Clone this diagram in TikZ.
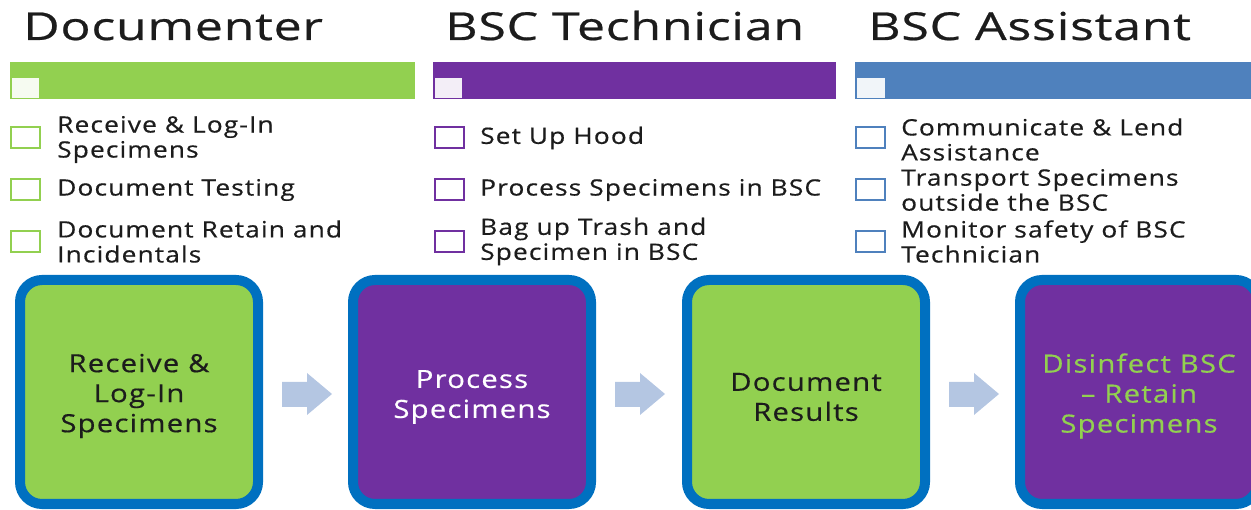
\documentclass[tikz,border=0pt]{standalone}
\usepackage{fontspec}
\setmainfont{Open Sans}[FakeStretch=1.17,LetterSpace=5,FakeBold=0.5]
\newfontfamily\headfont{Open Sans}[FakeStretch=1.3,LetterSpace=2,FakeBold=0.6]
\usetikzlibrary{calc}

\definecolor{leafgreen}{HTML}{92D050}
\definecolor{plum}{HTML}{7030A0}
\definecolor{steel}{HTML}{4F81BD}
\definecolor{rim}{HTML}{0070C0}
\definecolor{arrowgrey}{HTML}{B4C6E2}
\definecolor{ink}{HTML}{1C1C1C}

\tikzset{
  heading/.style={anchor=base west, inner sep=0, text=ink,
    font=\headfont\fontsize{38.5}{42}\selectfont},
  bar/.style={fill=#1, draw=none},
  tick/.style={fill=white, fill opacity=0.92, draw=none},
  checkbox/.style={draw=#1, line width=1.8pt, fill=white,
    minimum width=29, minimum height=21, inner sep=0},
  item/.style={anchor=west, inner sep=0, align=left, text=ink,
    font=\fontsize{22.5}{25}\selectfont},
  stage/.style={draw=rim, line width=10pt, fill=#1, rounded corners=22pt,
    minimum width=238, minimum height=224, inner sep=0},
  caption/.style={inner sep=0, align=center, font=\fontsize{25}{30}\selectfont},
  flow/.style={fill=arrowgrey, draw=none}
}

\begin{document}
\begin{tikzpicture}[x=1pt,y=-1pt]
  \useasboundingbox (0,0) rectangle (1251,510);

  % column headings
  \node[heading] (hdoc) at (23,40) {Documenter};
  \node[heading] (htech) at (445,40) {BSC Technician};
  \node[heading] (hasst) at (868,40) {BSC Assistant};

  % coloured bars with their small light squares
  \fill[bar=leafgreen] (10,62) rectangle (415,99);
  \fill[tick] (12,78) rectangle (39,98);
  \fill[bar=plum] (433,62) rectangle (836,99);
  \fill[tick] (435,78) rectangle (462,98);
  \fill[bar=steel] (855,62) rectangle (1251,99);
  \fill[tick] (857,78) rectangle (885,98);

  % Documenter duties
  \node[checkbox=leafgreen] (g1) at (25.5,137.5) {};
  \node[item] (tg1) at (57,139.5) {Receive \& Log-In\\Specimens};
  \node[checkbox=leafgreen] (g2) at (25.5,189.5) {};
  \node[item] (tg2) at (57,190) {Document Testing};
  \node[checkbox=leafgreen] (g3) at (25.5,241.5) {};
  \node[item] (tg3) at (57,241.5) {Document Retain and\\Incidentals};

  % BSC Technician duties
  \node[checkbox=plum] (p1) at (449.5,137.5) {};
  \node[item] (tp1) at (480,138) {Set Up Hood};
  \node[checkbox=plum] (p2) at (449.5,189.5) {};
  \node[item] (tp2) at (480,190) {Process Specimens in BSC};
  \node[checkbox=plum] (p3) at (449.5,241.5) {};
  \node[item] (tp3) at (480,241.5) {Bag up Trash and\\Specimen in BSC};

  % BSC Assistant duties
  \node[checkbox=steel] (b1) at (870.5,137.5) {};
  \node[item] (tb1) at (901,139.5) {Communicate \& Lend\\Assistance};
  \node[checkbox=steel] (b2) at (870.5,189.5) {};
  \node[item] (tb2) at (901,190) {Transport Specimens\\outside the BSC};
  \node[checkbox=steel] (b3) at (870.5,241.5) {};
  \node[item] (tb3) at (901,241.5) {Monitor safety of BSC\\Technician};

  % process stages
  \node[stage=leafgreen] (s1) at (139,392) {};
  \node[stage=plum] (s2) at (472,392) {};
  \node[stage=leafgreen] (s3) at (806,392) {};
  \node[stage=plum] (s4) at (1139,392) {};
  \node[caption, text=ink] (c1) at ($(s1.center)+(0,4)$) {Receive \&\\Log-In\\Specimens};
  \node[caption, text=white] (c2) at ($(s2.center)+(0,5)$) {Process\\Specimens};
  \node[caption, text=ink] (c3) at ($(s3.center)+(0,5)$) {Document\\Results};
  \node[caption, text=leafgreen] (c4) at ($(s4.center)+(0,4)$) {Disinfect BSC\\{\textendash} Retain\\Specimens};

  % block arrows between stages
  \foreach \a in {s1,s2,s3} {
    \fill[flow] ($(\a.east)+(19,-10)$) -- ($(\a.east)+(44,-10)$)
      -- ($(\a.east)+(44,-19)$) -- ($(\a.east)+(69,2)$)
      -- ($(\a.east)+(44,23)$) -- ($(\a.east)+(44,15)$)
      -- ($(\a.east)+(19,15)$) -- cycle;
  }
\end{tikzpicture}
\end{document}
